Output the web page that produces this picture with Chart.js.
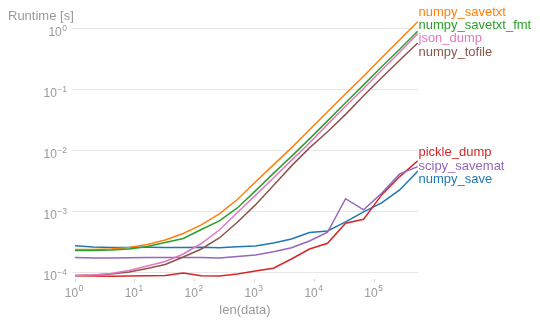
<!DOCTYPE html>
<html>
<head>
<meta charset="utf-8">
<script src="https://cdn.jsdelivr.net/npm/chart.js@4/dist/chart.umd.min.js"></script>
<style>
  html, body { margin: 0; padding: 0; background: #fff; }
  #wrap { width: 540px; height: 323px; position: relative; }
</style>
</head>
<body>
<div id="wrap"><canvas id="chart"></canvas></div>
<script>
// len(data) values (powers of two)
const sizes = [1, 2, 4, 8, 16, 32, 64, 128, 256, 512, 1024, 2048, 4096, 8192,
    16384, 32768, 65536, 131072, 262144, 524288];

const seriesNames = ["numpy_save", "numpy_savetxt", "numpy_savetxt_fmt", "pickle_dump",
    "scipy_savemat", "numpy_tofile", "json_dump"];
const seriesColors = ["#1f77b4", "#ff7f0e", "#2ca02c", "#d62728", "#9467bd", "#8c564b", "#e377c2"];

// runtimes [s]
const numpySave = [2.75e-4, 2.62e-4, 2.57e-4, 2.58e-4, 2.6e-4, 2.59e-4, 2.58e-4, 2.6e-4, 2.56e-4, 2.65e-4,
    2.72e-4, 3.06e-4, 3.56e-4, 4.55e-4, 4.82e-4, 6.77e-4, 9.9e-4, 1.39e-3, 2.27e-3, 4.6e-3];
const numpySavetxt = [2.39e-4, 2.39e-4, 2.44e-4, 2.58e-4, 2.89e-4, 3.43e-4, 4.38e-4, 6.05e-4, 9.17e-4, 1.58e-3,
    3.07e-3, 5.85e-3, 1.11e-2, 2.2e-2, 4.34e-2, 8.57e-2, 0.166, 0.334, 0.66, 1.3];
const numpySavetxtFmt = [2.31e-4, 2.31e-4, 2.35e-4, 2.44e-4, 2.68e-4, 3.12e-4, 3.63e-4, 5.1e-4, 7.03e-4, 1.15e-3,
    2.19e-3, 4.24e-3, 8.05e-3, 1.56e-2, 3.08e-2, 6.09e-2, 0.12, 0.238, 0.461, 0.91];
const pickleDump = [8.89e-5, 8.79e-5, 8.7e-5, 8.8e-5, 8.9e-5, 9.0e-5, 9.85e-5, 8.9e-5, 8.8e-5, 9.5e-5,
    1.06e-4, 1.18e-4, 1.67e-4, 2.44e-4, 3.03e-4, 6.45e-4, 7.5e-4, 1.88e-3, 3.76e-3, 6.8e-3];
const scipySavemat = [1.76e-4, 1.74e-4, 1.74e-4, 1.75e-4, 1.77e-4, 1.76e-4, 1.77e-4, 1.76e-4, 1.73e-4, 1.84e-4,
    1.95e-4, 2.2e-4, 2.56e-4, 3.3e-4, 4.59e-4, 1.63e-3, 1.07e-3, 2.0e-3, 4.16e-3, 5.48e-3];
const numpyTofile = [8.96e-5, 9.14e-5, 9.49e-5, 1.02e-4, 1.17e-4, 1.36e-4, 1.8e-4, 2.44e-4, 3.7e-4, 6.7e-4,
    1.29e-3, 2.69e-3, 5.63e-3, 1.11e-2, 2.04e-2, 3.94e-2, 7.94e-2, 0.157, 0.304, 0.582];
const jsonDump = [8.96e-5, 9.14e-5, 9.67e-5, 1.08e-4, 1.28e-4, 1.52e-4, 2.02e-4, 3.0e-4, 5.0e-4, 9.7e-4,
    1.85e-3, 3.57e-3, 6.93e-3, 1.34e-2, 2.7e-2, 5.34e-2, 0.105, 0.208, 0.411, 0.828];

const allSeries = [numpySave, numpySavetxt, numpySavetxtFmt, pickleDump, scipySavemat, numpyTofile, jsonDump];

// tick values and their exponents
const xTicks = [1, 10, 100, 1000, 10000, 100000];
const xTickExp = ["0", "1", "2", "3", "4", "5"];
const yTicks = [1e-4, 1e-3, 1e-2, 1e-1, 1];
const yTickExp = ["\u22124", "\u22123", "\u22122", "\u22121", "0"];

const gray = "#999999";
const font = "'Liberation Sans', Arial, Helvetica, sans-serif";

function drawPower(ctx, exp, x, baseY, supY, align) {
    ctx.font = "12px " + font;
    const w10 = ctx.measureText("10").width;
    ctx.font = "8.5px " + font;
    const we = ctx.measureText(exp).width;
    const total = w10 + 0.5 + we;
    let left = align === "right" ? x - total : x - total / 2;
    ctx.textAlign = "left";
    ctx.textBaseline = "alphabetic";
    ctx.font = "12px " + font;
    ctx.fillText("10", left, baseY);
    ctx.font = "8.5px " + font;
    ctx.fillText(exp, left + w10 + 0.5, supY);
}

const textPlugin = {
    id: "texts",
    afterDraw(chart) {
        const ctx = chart.ctx;
        const xs = chart.scales.x, ys = chart.scales.y;
        ctx.save();
        ctx.fillStyle = gray;

        xTicks.forEach((v, i) => {
            const px = xs.getPixelForValue(v);
            drawPower(ctx, xTickExp[i], px - 1, 296.5, 290.5, "center");
        });
        yTicks.forEach((v, i) => {
            const py = ys.getPixelForValue(v);
            drawPower(ctx, yTickExp[i], 67, py + 7.6, py + 2.5, "right");
        });

        ctx.font = "13px " + font;
        ctx.textAlign = "left";
        ctx.fillText("Runtime [s]", 8, 19.5);
        ctx.textAlign = "center";
        ctx.fillText("len(data)", (chart.chartArea.left + chart.chartArea.right) / 2, 314);

        // line labels at the right end, spread out so they don't overlap
        const gap = 13.3;
        const ends = chart.data.datasets.map((ds, i) => {
            const pts = chart.getDatasetMeta(i).data;
            return { i: i, y: pts[pts.length - 1].y };
        }).sort((a, b) => a.y - b.y);

        let groups = ends.map(e => ({ items: [e] }));
        const place = g => {
            const mean = g.items.reduce((s, e) => s + e.y, 0) / g.items.length;
            const n = g.items.length;
            g.items.forEach((e, j) => { e.pos = mean + (j - (n - 1) / 2) * gap; });
        };
        groups.forEach(place);
        let merged = true;
        while (merged) {
            merged = false;
            for (let k = 0; k < groups.length - 1; k++) {
                const a = groups[k], b = groups[k + 1];
                if (a.items[a.items.length - 1].pos + gap > b.items[0].pos) {
                    a.items = a.items.concat(b.items);
                    groups.splice(k + 1, 1);
                    place(a);
                    merged = true;
                    break;
                }
            }
        }

        ctx.font = "13px " + font;
        ctx.textAlign = "left";
        ends.forEach(e => {
            ctx.fillStyle = seriesColors[e.i];
            ctx.fillText(seriesNames[e.i], chart.chartArea.right + 0.5, e.pos + 3.3);
        });
        ctx.restore();
    }
};

const datasets = seriesNames.map((name, i) => ({
    label: name,
    data: sizes.map((n, k) => ({ x: n, y: allSeries[i][k] })),
    borderColor: seriesColors[i],
    backgroundColor: seriesColors[i],
    borderWidth: 1.5,
    pointRadius: 0,
    tension: 0,
    fill: false,
    order: seriesNames.length - i
}));

new Chart(document.getElementById("chart"), {
    type: "line",
    data: { datasets: datasets },
    options: {
        responsive: true,
        maintainAspectRatio: false,
        animation: false,
        layout: { padding: { top: 18, right: 122, left: 0, bottom: 0 } },
        plugins: { legend: { display: false }, tooltip: { enabled: false } },
        scales: {
            x: {
                type: "logarithmic",
                min: 0.89,
                max: 530000,
                border: { display: false },
                grid: { drawOnChartArea: false, drawTicks: true, tickLength: 3, color: "#cfcfcf" },
                ticks: { display: false },
                afterBuildTicks: s => { s.ticks = xTicks.map(v => ({ value: v })); },
                afterFit: s => { s.height = 44.5; }
            },
            y: {
                type: "logarithmic",
                min: 8e-5,
                max: 1.5,
                border: { display: false },
                grid: { drawTicks: false, color: "#e6e6e6", lineWidth: 1 },
                ticks: { display: false },
                afterBuildTicks: s => { s.ticks = yTicks.map(v => ({ value: v })); },
                afterFit: s => { s.width = 72; }
            }
        }
    },
    plugins: [textPlugin]
});
</script>
</body>
</html>
